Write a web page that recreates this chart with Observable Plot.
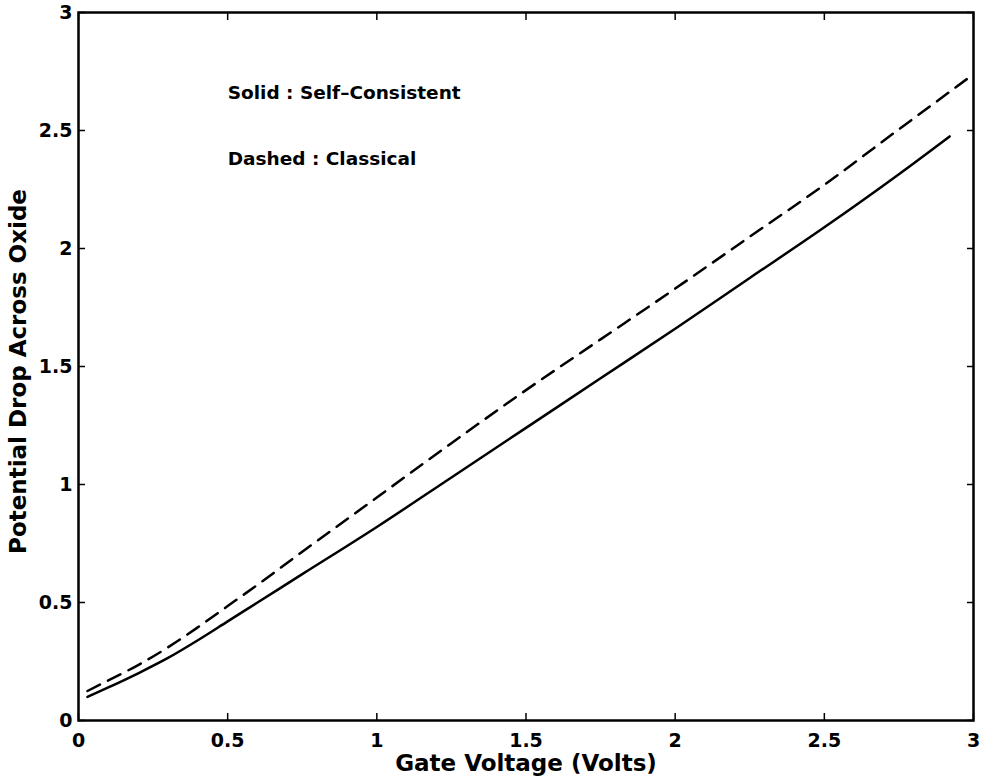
<!DOCTYPE html>
<html>
<head>
<meta charset="utf-8">
<script src="https://cdn.jsdelivr.net/npm/d3@7"></script>
<script src="https://cdn.jsdelivr.net/npm/@observablehq/plot@0.6"></script>
<style>
  body { margin: 0; background: #fff; }
</style>
</head>
<body>
<div id="chart"></div>
<script>
// Solid: Self-Consistent
const solidX = [0.03, 0.1, 0.2, 0.3, 0.4, 0.5, 0.6, 0.75, 1.0, 1.25, 1.5, 1.75, 2.0, 2.25, 2.5, 2.75, 2.92];
const solidY = [0.10, 0.14, 0.20, 0.265, 0.34, 0.42, 0.50, 0.62, 0.82, 1.03, 1.24, 1.45, 1.66, 1.875, 2.09, 2.315, 2.475];
// Dashed: Classical
const dashedX = [0.03, 0.1, 0.2, 0.3, 0.4, 0.5, 0.6, 0.75, 1.0, 1.25, 1.5, 1.75, 2.0, 2.25, 2.5, 2.75, 2.98];
const dashedY = [0.125, 0.17, 0.235, 0.31, 0.395, 0.485, 0.575, 0.715, 0.945, 1.175, 1.40, 1.615, 1.83, 2.05, 2.27, 2.505, 2.72];

const xTicks = [0, 0.5, 1, 1.5, 2, 2.5, 3];
const yTicks = [0, 0.5, 1, 1.5, 2, 2.5, 3];
const xLabel = "Gate Voltage (Volts)";
const yLabel = "Potential Drop Across Oxide";
const legendLines = ["Solid : Self\u2013Consistent", "Dashed : Classical"];
const legendY = [2.657, 2.38];
const legendXPos = 0.5;

const solid = solidX.map((x, i) => ({x, y: solidY[i]}));
const dashed = dashedX.map((x, i) => ({x, y: dashedY[i]}));
const legend = legendLines.map((t, i) => ({t, x: legendXPos, y: legendY[i]}));
const fmt = d => String(d);

const chart = Plot.plot({
  width: 982,
  height: 784,
  marginLeft: 78,
  marginRight: 9,
  marginTop: 12,
  marginBottom: 64,
  x: {domain: [0, 3]},
  y: {domain: [0, 3]},
  style: {fontFamily: "'DejaVu Sans', 'Liberation Sans', Arial, sans-serif", fontWeight: "bold", fontSize: "19px", color: "black", background: "white"},
  marks: [
    Plot.axisX({anchor: "bottom", ticks: xTicks, tickSize: -7, tickPadding: 20, tickFormat: fmt, label: null, strokeWidth: 1.5}),
    Plot.axisX({anchor: "top", ticks: xTicks, tickSize: -7, tickFormat: () => "", label: null, strokeWidth: 1.5}),
    Plot.axisY({anchor: "left", ticks: yTicks, tickSize: -7, tickPadding: 13, tickFormat: fmt, label: null, strokeWidth: 1.5}),
    Plot.axisY({anchor: "right", ticks: yTicks, tickSize: -7, tickFormat: () => "", label: null, strokeWidth: 1.5}),
    Plot.frame({stroke: "black", strokeWidth: 2.5}),
    Plot.line(dashed, {x: "x", y: "y", stroke: "black", strokeWidth: 2.5, strokeDasharray: "14,9", curve: "monotone-x"}),
    Plot.line(solid, {x: "x", y: "y", stroke: "black", strokeWidth: 2.5, curve: "monotone-x"}),
    Plot.text(legend, {x: "x", y: "y", text: "t", textAnchor: "start", fontSize: 18.5, fontWeight: "bold"}),
    Plot.text([xLabel], {frameAnchor: "bottom", dy: 50, fontSize: 23, fontWeight: "bold"}),
    Plot.text([yLabel], {frameAnchor: "left", textAnchor: "middle", dx: -60, dy: 5, rotate: -90, fontSize: 23, fontWeight: "bold"})
  ]
});
document.getElementById("chart").appendChild(chart);
</script>
</body>
</html>
